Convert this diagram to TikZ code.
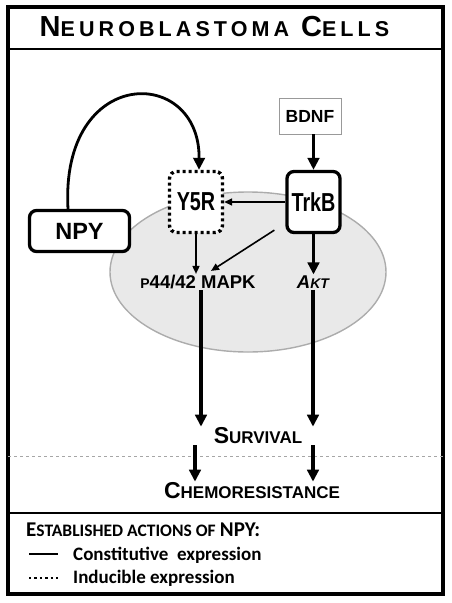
\documentclass[tikz,border=0pt]{standalone}
\usepackage{fontspec}
\setmainfont{Liberation Sans}
\newfontfamily\nar[FakeStretch=0.76]{Liberation Sans}
\newfontfamily\legfont{Carlito}
\usetikzlibrary{arrows.meta,shapes.geometric}
\newcommand\fs[1]{\fontsize{#1}{#1}\selectfont}
\begin{document}
\begin{tikzpicture}[x=1pt,y=-1pt,
  rbox/.style={draw,line width=3.3pt,rounded corners=7pt,fill=white,inner sep=0pt,font=\nar\fs{26}\bfseries},
  dbox/.style={rbox,line width=3.4pt,dash pattern=on 3pt off 3pt},
  plain/.style={inner sep=1pt,font=\bfseries},
  thickarr/.style={-{Triangle[length=12pt,width=11.5pt]},line width=3.4pt},
  thinarr/.style={-{Triangle[length=8pt,width=7pt]},line width=1.6pt},
  legtext/.style={inner sep=0pt,anchor=west,font=\legfont\bfseries\fs{19}}
]
\useasboundingbox (0,0) rectangle (451,603);
% frame
\draw[line width=3.3pt] (8,7) rectangle (443,594);
\draw[line width=1.8pt] (8,49) -- (443,49);
\draw[line width=2.4pt] (8,513) -- (443,513);
\draw[gray!70,dashed,line width=0.9pt] (8,456) -- (443,456);
% title
\node[inner sep=0pt,font=\bfseries] (title) at (214.5,27)
  {\addfontfeature{LetterSpace=19}{\fs{29}N}{\fs{21.5}EUROBLASTOMA}\hspace{12pt}{\fs{29}C}{\fs{21.5}ELLS}};
% cell ellipse
\node[ellipse,draw=gray!65,line width=1.4pt,fill=gray!17,minimum width=276pt,minimum height=160pt] (cell) at (248,272) {};
% nodes
\node[draw=gray!80,line width=0.9pt,minimum width=62pt,minimum height=36pt,inner sep=0pt,font=\fs{17.5}\bfseries] (bdnf) at (310,116) {BDNF};
\node[rbox,minimum width=53pt,minimum height=61pt] (trkb) at (313.5,202) {TrkB};
\node[dbox,minimum width=53pt,minimum height=61pt] (y5r) at (196,202) {Y5R};
\node[rbox,minimum width=100pt,minimum height=41pt,font=\fs{23.5}\bfseries] (npy) at (79.5,231) {NPY};
\node[plain] (mapk) at (198,282) {{\fs{14}P}{\fs{18.5}44/42 MAPK}};
\node[plain,font=\bfseries\itshape] (akt) at (313,282) {{\fs{18.5}A}{\fs{14}KT}};
\node[plain] (surv) at (258,436) {{\fs{23}S}{\fs{17}URVIVAL}};
\node[plain] (chemo) at (252,491) {{\fs{23}C}{\fs{17}HEMORESISTANCE}};
% connectors
\coordinate (npytop) at ([xshift=-11.5pt]npy.north);
\draw[thickarr,line width=2.8pt] (npytop) .. controls (60,65) and (200,65) .. ([xshift=3pt]y5r.north);
\draw[thickarr] ([xshift=3.5pt]bdnf.south) -- ([xshift=3.5pt]bdnf.south |- trkb.north);
\draw[thinarr] (trkb.west) -- (y5r.east);
\draw[thinarr] (y5r.south) -- (y5r.south |- mapk.north);
\draw[thinarr] ([xshift=-11pt,yshift=4pt]trkb.south west) -- ([xshift=13pt,yshift=3pt]mapk.north);
\draw[thickarr] (trkb.south) -- (trkb.south |- akt.north);
\draw[thickarr] ([xshift=3pt]mapk.south) -- ([xshift=3pt]mapk.south |- surv.north);
\draw[thickarr] (akt.south) -- (akt.south |- surv.north);
\coordinate (c1) at ([xshift=-63pt]surv.south);
\coordinate (c2) at ([xshift=55pt]surv.south);
\draw[thickarr] (c1) -- (c1 |- chemo.north);
\draw[thickarr] (c2) -- (c2 |- chemo.north);
% legend
\node[legtext] (leg1) at (26,530) {{\fs{21}E}{\fs{17.5}STABLISHED ACTIONS OF} {\fs{21}NPY:}};
\node[legtext] (leg2) at (73,555) {Constitutive\ \ expression};
\node[legtext] (leg3) at (73,578) {Inducible expression};
\coordinate (l1a) at (29,554);
\coordinate (l2a) at (29,578);
\draw[line width=2.8pt] (l1a) -- ++(29,0);
\draw[line width=2.4pt,dash pattern=on 2.4pt off 3pt] (l2a) -- ++(29,0);
\end{tikzpicture}
\end{document}
